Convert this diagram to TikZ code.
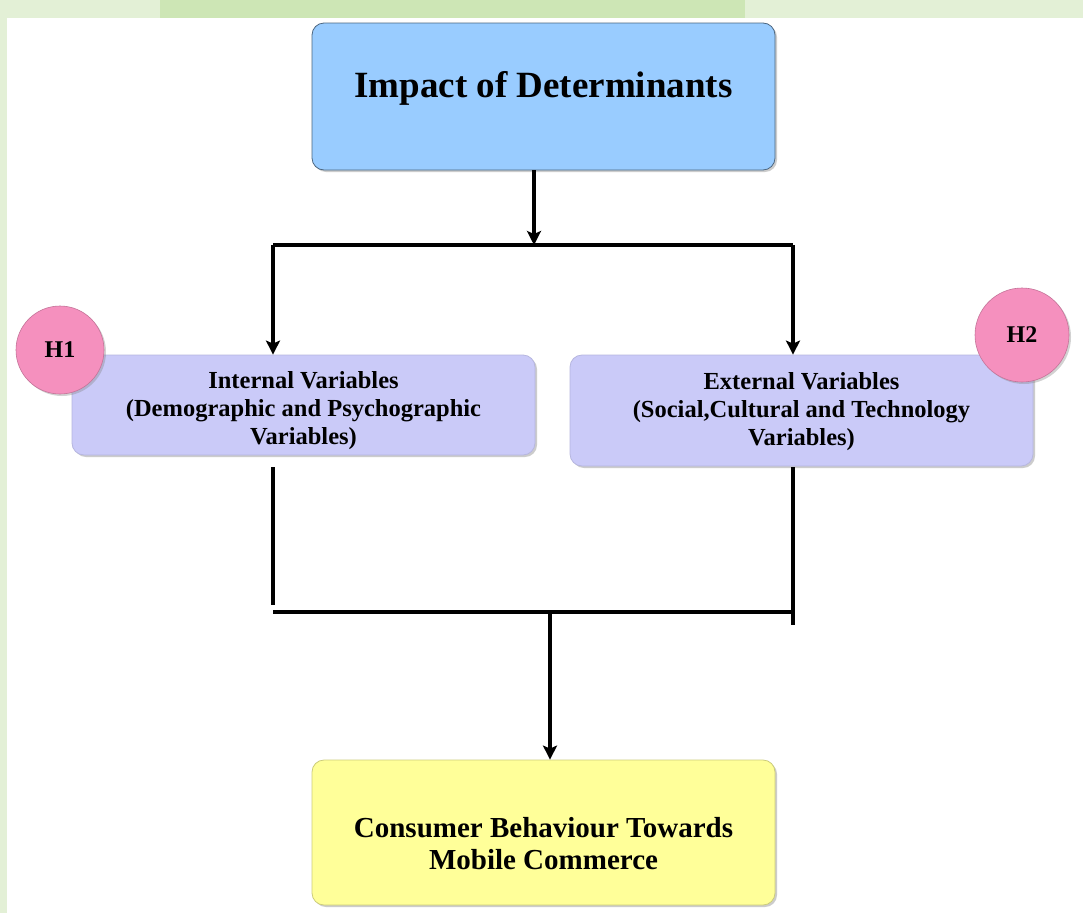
\documentclass[tikz,border=0pt]{standalone}
\usepackage{fontspec}
\setmainfont{Liberation Serif}
\usetikzlibrary{arrows.meta,shadows,positioning}

\definecolor{topblue}{HTML}{99CCFF}
\definecolor{varlilac}{HTML}{CACAF8}
\definecolor{outyellow}{HTML}{FFFF99}
\definecolor{hpink}{HTML}{F590BE}
\definecolor{framegreen}{HTML}{E3F0D6}
\definecolor{bandgreen}{HTML}{CDE6B5}

\begin{document}
\begin{tikzpicture}[
		x=1pt, y=-1pt,
		> = {Stealth[length=14pt,width=14pt,inset=3pt]},
		box/.style={draw=gray!70, line width=0.8pt, rounded corners=12pt,
			drop shadow={shadow xshift=2pt, shadow yshift=-2pt, opacity=0.4}},
		boxtext/.style 2 args={align=center, font=\bfseries\fontsize{#1}{#2}\selectfont},
		hyp/.style={circle, draw=hpink!80!black, line width=0.6pt, fill=hpink,
			font=\bfseries\fontsize{24}{28}\selectfont,
			drop shadow={shadow xshift=2pt, shadow yshift=-2pt, opacity=0.35}},
		link/.style={line width=3.4pt}
		]
		% background and margins
		\fill[framegreen] (0,0) rectangle (1083,913);
		\fill[bandgreen] (160,0) rectangle (745,18);
		\fill[white] (7,18) rectangle (1083,913);
		\useasboundingbox (0,0) rectangle (1083,913);

		% boxes
		\node[box, fill=topblue, draw=topblue!50!black, minimum width=463pt, minimum height=147pt] (impact) at (543.5,96.5) {};
		\node[box, fill=varlilac, draw=varlilac!90!black, minimum width=463pt, minimum height=100pt] (internal) at (303.5,405) {};
		\node[box, fill=varlilac, draw=varlilac!90!black, minimum width=463pt, minimum height=111pt] (external) at (801.5,410.5) {};
		\node[box, fill=outyellow, draw=outyellow!80!black, minimum width=463pt, minimum height=145pt] (consumer) at (543.5,832.5) {};

		% texts
		\node[boxtext={37}{44}] (impacttext) at (543.5,88) {Impact of Determinants};
		\node[boxtext={24.5}{28}] (internaltext) at (303.5,411)
			{Internal Variables\\(Demographic and Psychographic\\Variables)};
		\node[boxtext={24.5}{28}] (externaltext) at (801.5,412)
			{External Variables\\(Social,Cultural and Technology\\Variables)};
		\node[boxtext={29}{32}] (consumertext) at (543.5,844)
			{Consumer Behaviour Towards\\Mobile Commerce};

		% hypotheses
		\node[hyp, minimum size=88pt] (h1) at (60,350) {H1};
		\node[hyp, minimum size=94pt] (h2) at (1022,335) {H2};

		% junctions
		\coordinate (topdrop) at (534,170);
		\coordinate (splitL) at (273,245);
		\coordinate (splitR) at (793,245);
		\coordinate (inL) at (273,467);
		\coordinate (inR) at (793,467);
		\coordinate (joinL) at (273,612);
		\coordinate (joinR) at (793,612);
		\coordinate (tailL) at (273,605);
		\coordinate (tailR) at (793,625);
		\coordinate (joinM) at (550,612);

		% connectors
		\draw[link,->] (topdrop) -- (topdrop |- splitL);
		\draw[link] (splitL) -- (splitR);
		\draw[link,->] (splitL) -- (splitL |- internal.north);
		\draw[link,->] (splitR) -- (splitR |- external.north);
		\draw[link] (inL) -- (tailL);
		\draw[link] (inR) -- (tailR);
		\draw[link] (joinL) -- (joinR);
		\draw[link,->] (joinM) -- (joinM |- consumer.north);
	\end{tikzpicture}
\end{document}
